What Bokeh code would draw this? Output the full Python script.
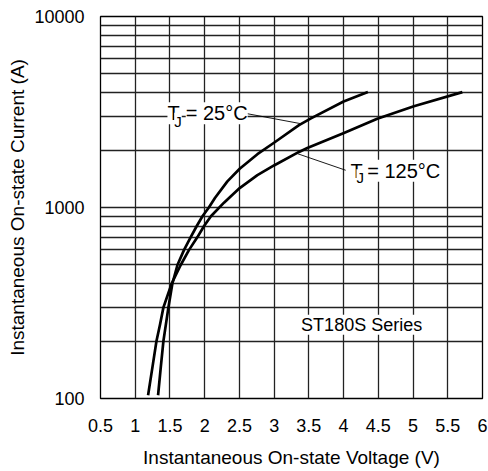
from bokeh.plotting import figure
from bokeh.models import FixedTicker, Label, Range1d
from bokeh.embed import file_html
from bokeh.resources import INLINE

# ---- data ----
v25 = [1.329, 1.368, 1.406, 1.478, 1.535, 1.608, 1.703, 1.799, 1.886, 1.968, 2.06,
       2.15, 2.327, 2.504, 2.759, 2.998, 3.358, 3.53, 4.0, 4.35]
i25 = [104, 146, 200, 300, 400, 500, 600, 700, 800, 900, 1000,
       1124, 1370, 1596, 1902, 2183, 2700, 2930, 3590, 4020]

v125 = [1.185, 1.248, 1.306, 1.358, 1.406, 1.525, 1.655, 1.775, 1.896, 1.991, 2.09,
        2.278, 2.504, 2.759, 2.998, 3.358, 3.478, 4.005, 4.485, 5.012, 5.71]
i125 = [104, 146, 200, 245, 300, 400, 500, 600, 700, 800, 900,
        1060, 1264, 1476, 1660, 1954, 2050, 2455, 2918, 3388, 4020]

x_ticks = [0.5, 1, 1.5, 2, 2.5, 3, 3.5, 4, 4.5, 5, 5.5, 6]
x_tick_labels = ["0.5", "1", "1.5", "2", "2.5", "3", "3.5", "4", "4.5", "5", "5.5", "6"]
y_ticks = [100, 1000, 10000]
y_tick_labels = ["100", "1000", "10000"]
y_grid = [m * d for d in (100, 1000) for m in range(1, 10)] + [10000]

FONT = "Liberation Sans"

p = figure(width=488, height=471, x_range=Range1d(0.5, 6), y_range=Range1d(100, 10000),
           y_axis_type="log", output_backend="svg", toolbar_location=None,
           min_border_left=100, min_border_right=6, min_border_top=16, min_border_bottom=73)

p.outline_line_color = "black"
p.outline_line_width = 1.3

p.xaxis.ticker = FixedTicker(ticks=x_ticks)
p.xaxis.major_label_overrides = {t: l for t, l in zip(x_ticks, x_tick_labels)}
p.yaxis.ticker = FixedTicker(ticks=y_ticks)
p.yaxis.major_label_overrides = {t: l for t, l in zip(y_ticks, y_tick_labels)}
p.xgrid.ticker = FixedTicker(ticks=x_ticks)
p.ygrid.ticker = FixedTicker(ticks=y_grid)

for g in (p.xgrid, p.ygrid):
    g.grid_line_color = "#222222"
    g.grid_line_width = 1.3
    g.grid_line_alpha = 1.0

for ax in (p.xaxis, p.yaxis):
    ax.axis_line_color = None
    ax.major_tick_line_color = None
    ax.minor_tick_line_color = None
    ax.major_label_text_font = FONT
    ax.major_label_text_font_size = "18px"
    ax.major_label_text_color = "black"
    ax.axis_label_text_font = FONT
    ax.axis_label_text_font_size = "19px"
    ax.axis_label_text_font_style = "normal"
    ax.axis_label_text_color = "black"

p.xaxis.major_label_standoff = 14
p.yaxis.major_label_standoff = 10
p.xaxis.axis_label = "Instantaneous On-state Voltage (V)"
p.yaxis.axis_label = "Instantaneous On-state Current (A)"
p.xaxis.axis_label_standoff = 12
p.yaxis.axis_label_standoff = 3

p.line(v25, i25, line_color="black", line_width=2.7, line_join="round")
p.line(v125, i125, line_color="black", line_width=2.7, line_join="round")

# leader lines
p.line([2.615, 3.382], [3097, 2748], line_color="black", line_width=0.9)
p.line([3.335, 4.03], [1914, 1567], line_color="black", line_width=0.9)

def lab(x, y, text, size, align="left"):
    l = Label(x=x, y=y, text=text, text_font=FONT, text_font_size=size,
              text_align=align, text_baseline="middle", text_color="black",
              background_fill_color="white", background_fill_alpha=1.0)
    p.add_layout(l)

lab(1.464, 3112, "T", "20px")
lab(1.727, 3112, "= 25°C", "20px")
lab(1.562, 2830, "J", "15px")

lab(4.101, 1556, "T", "20px")
lab(4.34, 1556, "= 125°C", "20px")
lab(4.185, 1430, "J", "15px")

lab(4.26, 243, "ST180S Series", "18px", align="center")

open("out.html", "w").write(file_html(p, INLINE))
